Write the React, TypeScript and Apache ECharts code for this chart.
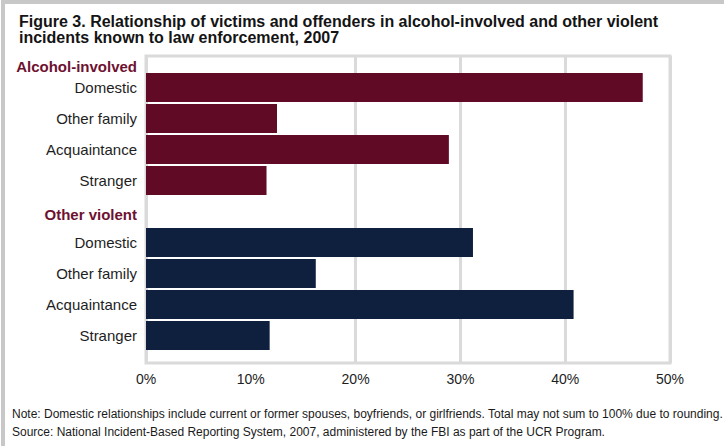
import React, { useEffect, useRef } from "react";
import * as echarts from "echarts";

const rowKeys = ["h1", "a1", "a2", "a3", "a4", "h2", "b1", "b2", "b3", "b4"];
const rowLabels = [
  "Alcohol-involved",
  "Domestic",
  "Other family",
  "Acquaintance",
  "Stranger",
  "Other violent",
  "Domestic",
  "Other family",
  "Acquaintance",
  "Stranger",
];
const alcoholInvolved = [null, 47.4, 12.5, 28.9, 11.5, null, null, null, null, null];
const otherViolent = [null, null, null, null, null, null, 31.2, 16.2, 40.8, 11.8];
const xTicks = [0, 10, 20, 30, 40, 50];

const titleText =
  "Figure 3. Relationship of victims and offenders in alcohol-involved and other violent\nincidents known to law enforcement, 2007";
const noteText =
  "Note: Domestic relationships include current or former spouses, boyfriends, or girlfriends. Total may not sum to 100% due to rounding.\nSource: National Incident-Based Reporting System, 2007, administered by the FBI as part of the UCR Program.";

const MAROON = "#600a26";
const NAVY = "#0f1f3e";
const FONT = '"Liberation Sans", Arial, sans-serif';

export default function App() {
  const ref = useRef<HTMLDivElement>(null);
  useEffect(() => {
    if (!ref.current) return;
    const chart = echarts.init(ref.current, null, { renderer: "svg" });
    const gl = "#dadada";
    chart.setOption({
      animation: false,
      backgroundColor: "#fff",
      textStyle: { fontFamily: FONT },
      title: {
        text: titleText,
        left: 14,
        top: 8,
        textStyle: { fontSize: 16, fontWeight: "bold", lineHeight: 16, color: "#141414", fontFamily: FONT },
      },
      graphic: [
        {
          type: "rect",
          shape: { x: 3, y: 2, width: 760, height: 480 },
          style: { fill: "none", stroke: "#c8c8c8", lineWidth: 4 },
          silent: true,
        },
        {
          type: "text",
          left: 12,
          top: 405,
          style: { text: noteText, font: `12px ${FONT}`, lineHeight: 18, fill: "#1a1a1a" },
        },
      ],
      grid: [
        { left: 146, top: 56, width: 524, height: 307, show: true, borderColor: gl, borderWidth: 3, backgroundColor: "transparent" },
        { left: 146, top: 41, width: 524, height: 310 },
      ],
      xAxis: [
        {
          type: "value",
          gridIndex: 0,
          min: xTicks[0],
          max: xTicks[xTicks.length - 1],
          interval: 10,
          axisLine: { show: false },
          axisTick: { show: false },
          splitLine: { show: true, lineStyle: { color: [gl, "rgba(0,0,0,0)", gl, gl, gl, gl], width: 3 } },
          axisLabel: { formatter: "{value}%", fontSize: 14, color: "#1e1e1e", margin: 9, fontFamily: FONT },
        },
        { type: "value", gridIndex: 1, min: 0, max: 50, show: false },
      ],
      yAxis: [
        { type: "category", gridIndex: 0, data: [""], show: false },
        {
          type: "category",
          gridIndex: 1,
          inverse: true,
          data: rowKeys,
          axisLine: { show: false },
          axisTick: { show: false },
          splitLine: { show: false },
          axisLabel: {
            margin: 9,
            fontSize: 15,
            color: "#1e1e1e",
            fontFamily: FONT,
            formatter: (v: string, i: number) => {
              const t = rowLabels[i];
              if (v === "h1") return `{h1|${t}}`;
              if (v === "h2") return `{h2|${t}}`;
              return t;
            },
            rich: {
              h1: { color: "#6e1131", fontWeight: "bold", fontSize: 15, padding: [20, 0, 0, 0], fontFamily: FONT },
              h2: { color: "#6e1131", fontWeight: "bold", fontSize: 15, padding: [5, 0, 0, 0], fontFamily: FONT },
            },
          },
        },
      ],
      series: [
        {
          name: "Alcohol-involved",
          type: "bar",
          xAxisIndex: 1,
          yAxisIndex: 1,
          data: alcoholInvolved,
          barWidth: 29,
          barGap: "-100%",
          itemStyle: { color: MAROON },
        },
        {
          name: "Other violent",
          type: "bar",
          xAxisIndex: 1,
          yAxisIndex: 1,
          data: otherViolent,
          barWidth: 29,
          barGap: "-100%",
          itemStyle: { color: NAVY },
        },
      ],
    });
    return () => chart.dispose();
  }, []);
  return <div ref={ref} style={{ position: "fixed", left: 0, top: 0, width: 724, height: 446 }} />;
}
